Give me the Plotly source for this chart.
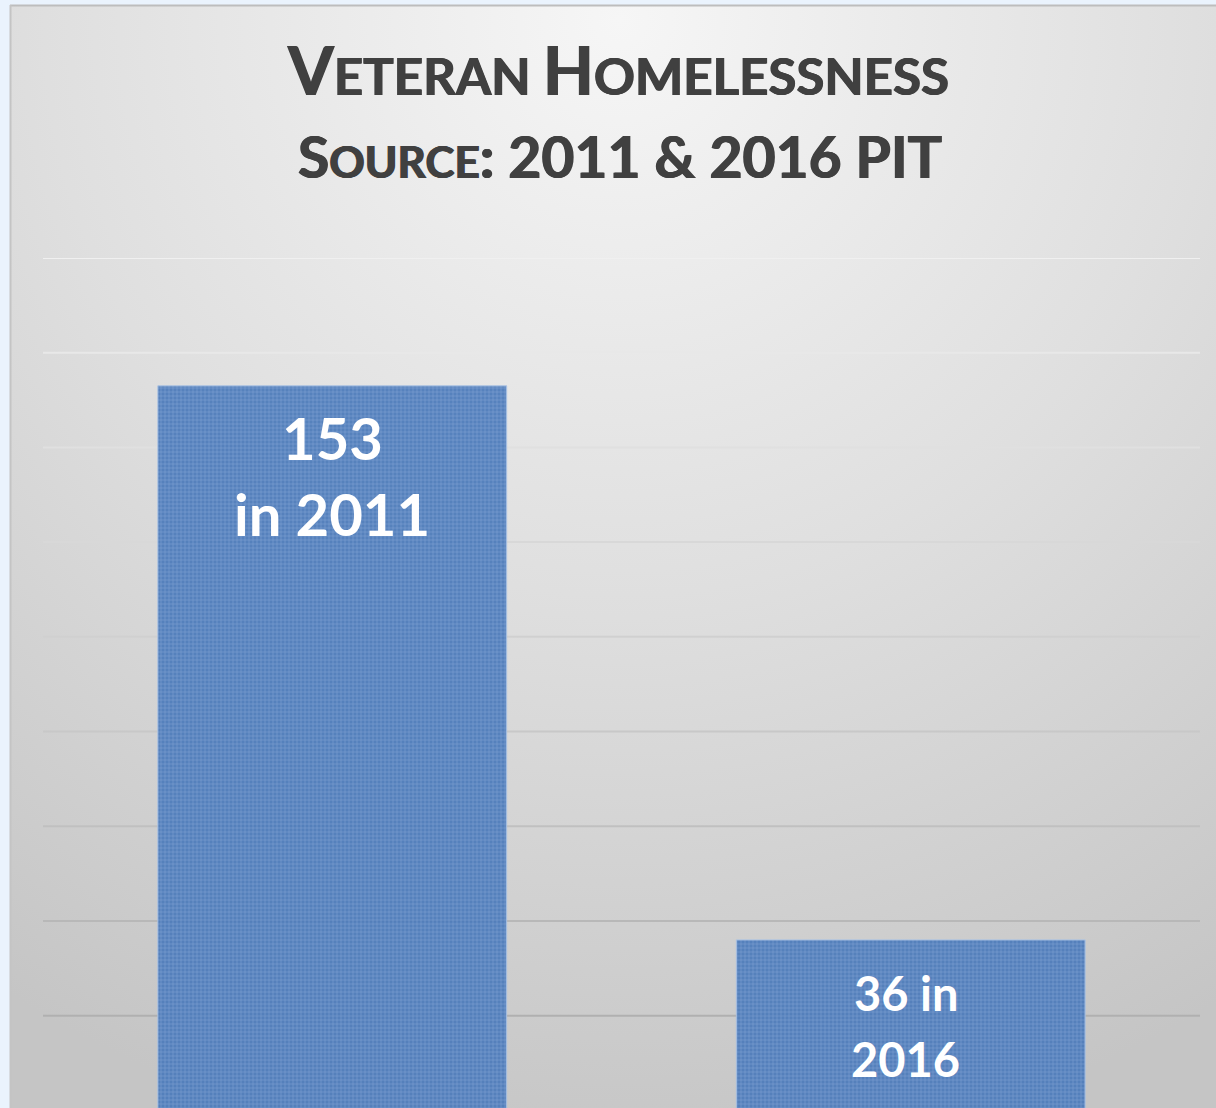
import base64
import plotly.graph_objects as go

# Point-in-time counts of homeless veterans
years = ["2011", "2016"]
counts = [153, 36]
# how each bar's label is split over two lines
label_templates = [["{v}", "in {y}"], ["{v} in", "{y}"]]
label_sizes = [58, 47]

grid_values = [20, 40, 60, 80, 100, 120, 140, 160, 180]

W, H = 1216, 1108
M_L, M_R, M_T, M_B = 43, 16, 258, 0
PW, PH = W - M_L - M_R, H - M_T - M_B

FONT = "Lato"
INK = "#404040"
BOLDEN = "0.7px 0 0 #404040, -0.7px 0 0 #404040"

# Backdrop: pale blue page with a gray gradient panel
svg = f"""<svg xmlns='http://www.w3.org/2000/svg' width='{W}' height='{H}' viewBox='0 0 {W} {H}'>
<defs>
<radialGradient id='g' gradientUnits='userSpaceOnUse' cx='620' cy='20' r='1150'>
<stop offset='0' stop-color='#f6f6f6'/>
<stop offset='0.5' stop-color='#dfdfdf'/>
<stop offset='1' stop-color='#c5c5c5'/>
</radialGradient>
</defs>
<rect x='0' y='0' width='{W}' height='{H}' fill='#eaf3fd'/>
<rect x='10' y='5' width='{W}' height='{H}' fill='url(#g)'/>
<line x1='10' y1='5.5' x2='{W}' y2='5.5' stroke='#bdbdbd' stroke-width='2'/>
<line x1='10.5' y1='5' x2='10.5' y2='{H}' stroke='#c4c4c4' stroke-width='2'/>
</svg>"""
bg_uri = "data:image/svg+xml;base64," + base64.b64encode(svg.encode()).decode()


def mix(c1, c2, t):
    a = [int(c1[i:i + 2], 16) for i in (1, 3, 5)]
    b = [int(c2[i:i + 2], 16) for i in (1, 3, 5)]
    return "#" + "".join(f"{round(x + (y - x) * t):02x}" for x, y in zip(a, b))


fig = go.Figure()
fig.add_trace(go.Bar(
    x=years,
    y=counts,
    width=0.603,
    marker=dict(
        color="#4f7dbb",
        opacity=0.95,
        line=dict(color="#a9c2e4", width=1),
        pattern=dict(shape="+", size=4, solidity=0.25, fgcolor="#8fb1de", fgopacity=0.7),
    ),
    hoverinfo="skip",
))

# gridlines: light near the top of the panel, darker toward the bottom
shapes = []
for v in grid_values:
    t = 1 - v / max(grid_values)
    shapes.append(dict(
        type="line", xref="paper", yref="y", x0=0, x1=1, y0=v, y1=v,
        line=dict(color=mix("#f0f0f0", "#a8a8a8", t), width=2), layer="below",
    ))

# value labels inside the bars, one annotation per line
label_layout = [
    dict(xshift=0, yshifts=[-15, -91]),
    dict(xshift=-5, yshifts=[-23, -89]),
]
annotations = []
for i, (yr, v, tpl, fs) in enumerate(zip(years, counts, label_templates, label_sizes)):
    for line, ys in zip(tpl, label_layout[i]["yshifts"]):
        annotations.append(dict(
            x=i, y=v, xref="x", yref="y", yanchor="top",
            xshift=label_layout[i]["xshift"], yshift=ys,
            text=line.format(v=v, y=yr), showarrow=False, align="center",
            font=dict(family=FONT, size=fs, color="white", weight="bold"),
        ))

title_lines = [
    ("<span style='font-size:66px'>V</span>ETERAN "
     "<span style='font-size:66px'>H</span>OMELESSNESS", 97, 51, -4),
    ("<span style='font-size:57px'>S</span>OURCE"
     "<span style='font-size:57px'>: 2011 &amp; 2016 PIT</span>", 178, 44, -2),
]
for txt, baseline, fs, dx in title_lines:
    annotations.append(dict(
        x=0.5, xref="paper", y=1 + (M_T - baseline) / PH, yref="paper",
        yanchor="bottom", xshift=dx, yshift=-14, text=txt, showarrow=False, align="center",
        font=dict(family=FONT, size=fs, color=INK, weight="bold", shadow=BOLDEN),
    ))

fig.update_layout(
    width=W, height=H,
    margin=dict(l=M_L, r=M_R, t=M_T, b=M_B, pad=0),
    paper_bgcolor="rgba(0,0,0,0)",
    plot_bgcolor="rgba(0,0,0,0)",
    showlegend=False,
    bargap=0.397,
    xaxis=dict(visible=False, type="category", range=[-0.5, 1.5]),
    yaxis=dict(visible=False, range=[0.5, 180]),
    shapes=shapes,
    annotations=annotations,
    images=[dict(
        source=bg_uri, xref="paper", yref="paper",
        x=-M_L / PW, y=1 + M_T / PH, sizex=W / PW, sizey=H / PH,
        xanchor="left", yanchor="top", sizing="stretch", layer="below",
    )],
)

fig.write_html("out.html")
